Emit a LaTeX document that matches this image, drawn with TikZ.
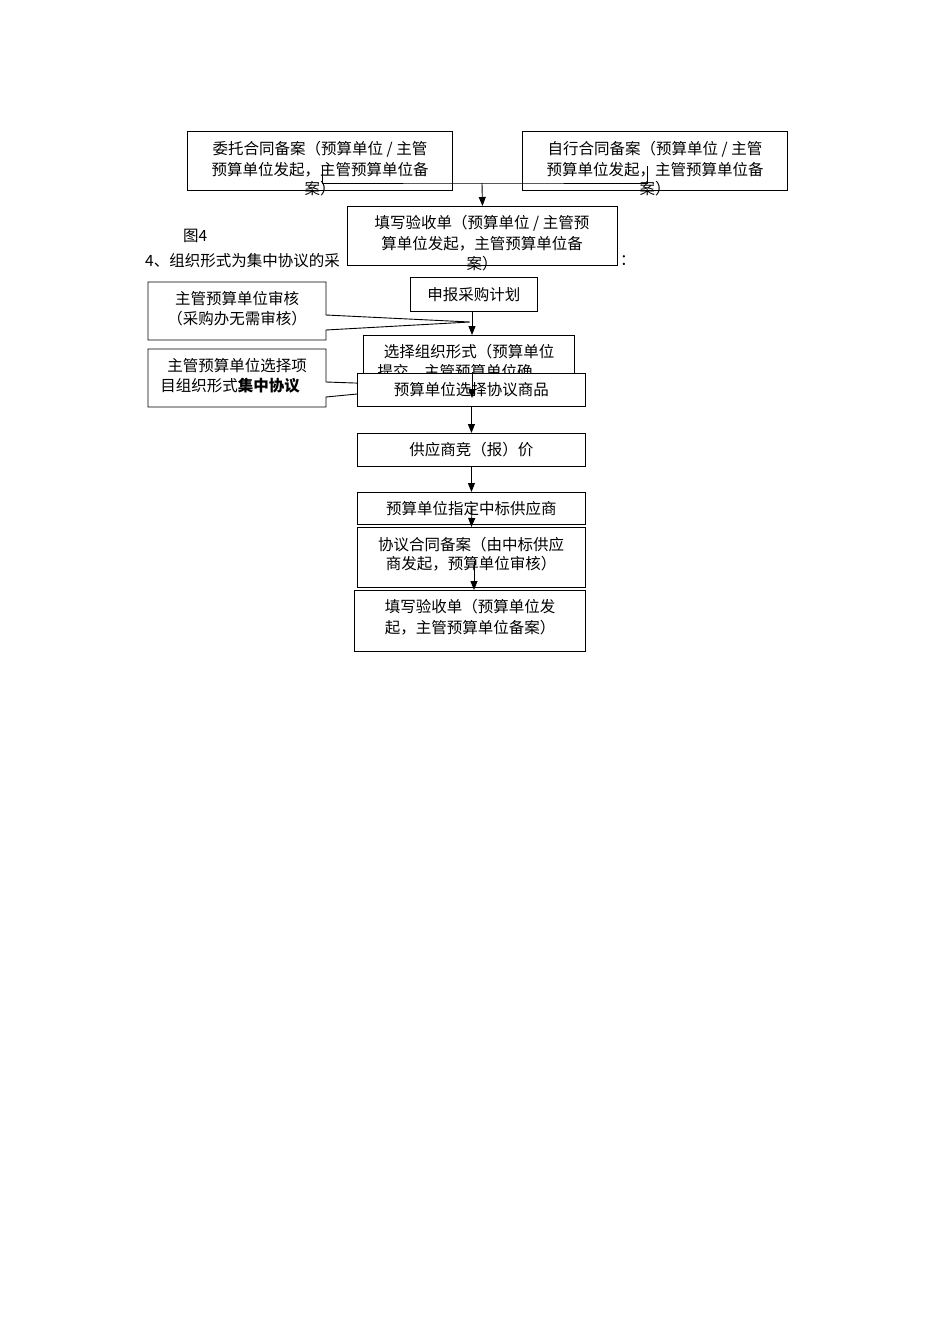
\documentclass[tikz,border=0pt]{standalone}
\usepackage{fontspec}
\setmainfont{Noto Sans CJK SC}
\usetikzlibrary{arrows.meta}
\begin{document}
\begin{tikzpicture}[x=1pt,y=-1pt,
  box/.style={draw,line width=0.9pt,fill=white,inner sep=0pt,anchor=north west},
  txt/.style={inner sep=0pt,font=\fontsize{15.5}{17}\selectfont},
  arr/.style={line width=0.9pt,-{Triangle[width=7pt,length=9pt]}},
  ln/.style={line width=0.9pt}]
\useasboundingbox (0,0) rectangle (950,1344);
\fill[white] (0,0) rectangle (950,1344);
% paragraph text
\node[txt,anchor=west] (fig) at (183,236) {图4};
\node[txt,anchor=west] (para) at (145,261) {4、组织形式为集中协议的采};
% top boxes
\node[box,minimum width=265pt,minimum height=59pt] (A) at (187,131) {};
\node[txt] (A1) at (320,149) {委托合同备案（预算单位 / 主管};
\node[txt] (A2) at (320,170) {预算单位发起，主管预算单位备};
\node[txt] (A3) at (320,189) {案）};
\node[box,minimum width=265pt,minimum height=59pt] (B) at (522,131) {};
\node[txt] (B1) at (655,149) {自行合同备案（预算单位 / 主管};
\node[txt] (B2) at (655,170) {预算单位发起，主管预算单位备};
\node[txt] (B3) at (655,189) {案）};
\coordinate (j1) at (322,166);
\coordinate (j2) at (647,166);
\coordinate (jm) at (482,183);
\draw[ln] (j1) |- (jm) -| (j2);
\node[box,minimum width=270pt,minimum height=59pt] (C) at (347,206) {};
\node[txt] (C1) at (482,223) {填写验收单（预算单位 / 主管预};
\node[txt] (C2) at (482,244) {算单位发起，主管预算单位备};
\node[txt] (C3) at (482,264) {案）};
\draw[arr] (jm) -- (C.north);
\node[txt,anchor=west] (colon) at (620,261) {：};
% second flow
\node[box,minimum width=127pt,minimum height=34pt] (D) at (410,277) {};
\node[txt] at (D.center) {申报采购计划};
\draw[ln,fill=white] (148,282) -- (326,282) -- (326,315) -- (470,322) -- (326,330) -- (326,340) -- (148,340) -- cycle;
\node[txt] (E1) at (237,299) {主管预算单位审核};
\node[txt] (E2) at (237,319) {（采购办无需审核）};
\node[box,minimum width=211pt,minimum height=60pt] (F) at (363,335) {};
\coordinate (ds) at (472,311);
\draw[arr] (ds) -- (472,335);
\node[txt] (F1) at (469,352) {选择组织形式（预算单位};
\node[txt] (F2) at (455,372) {提交，主管预算单位确};
\draw[ln,fill=white] (148,349) -- (326,349) -- (326,382) -- (440,386) -- (326,397) -- (326,407) -- (148,407) -- cycle;
\node[txt] (H1) at (237,366) {主管预算单位选择项};
\node[txt] (H2) at (230,386) {目组织形式\textbf{集中协议}};
\node[box,minimum width=228pt,minimum height=33pt] (G) at (357,373) {};
\node[txt] at (G.center) {预算单位选择协议商品};
\coordinate (fg) at (472,372);
\draw[arr] (fg) -- (472,398);
\node[box,minimum width=228pt,minimum height=33pt] (I) at (357,433) {};
\node[txt] at (I.center) {供应商竞（报）价};
\draw[arr] (G.south) -- (I.north);
\node[box,minimum width=228pt,minimum height=32pt] (J) at (357,492) {};
\node[txt] at (J.center) {预算单位指定中标供应商};
\draw[arr] (I.south) -- (J.north);
\node[box,minimum width=228pt,minimum height=60pt] (K) at (357,527) {};
\node[txt] (K1) at (471,545) {协议合同备案（由中标供应};
\node[txt] (K2) at (471,564) {商发起，预算单位审核）};
\coordinate (jk) at (472,506);
\draw[arr] (jk) -- (K.north);
\node[box,minimum width=231pt,minimum height=61pt] (L) at (354,590) {};
\node[txt] (L1) at (470,607) {填写验收单（预算单位发};
\node[txt] (L2) at (470,628) {起，主管预算单位备案）};
\coordinate (kl) at (474,561);
\draw[arr] (kl) -- (474,590);
\end{tikzpicture}
\end{document}
